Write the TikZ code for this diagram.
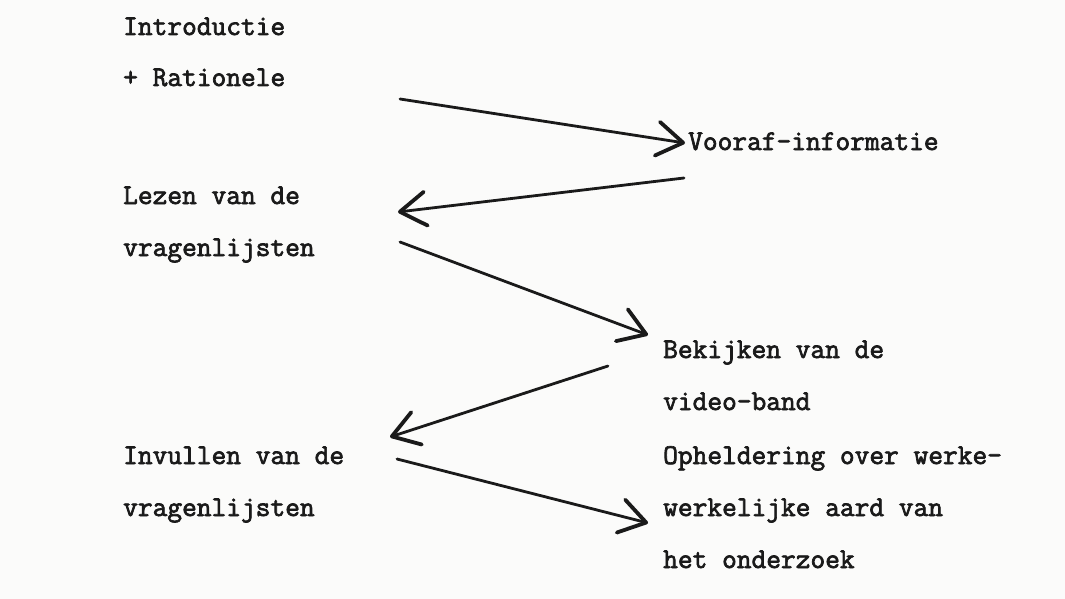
\documentclass[tikz,border=0pt]{standalone}
\usepackage{fontspec}
\newfontfamily\typew{Latin Modern Mono}[FakeBold=2.4]
\usetikzlibrary{arrows.meta}
\definecolor{ink}{HTML}{1A1A1A}
\definecolor{paper}{HTML}{FBFBFA}
\begin{document}
\begin{tikzpicture}[x=1pt,y=-1pt,
  lbl/.style={anchor=base west, inner sep=0pt, text=ink,
    font=\typew\fontsize{28.6}{28.6}\selectfont},
  flow/.style={draw=ink, line width=2.8pt, line cap=round,
    -{Straight Barb[length=26pt,width=34pt,line width=3.8pt,round]}}]
\path[fill=paper] (0,0) rectangle (1065,599);
\useasboundingbox (0,0) rectangle (1065,599);

% left column
\node[lbl] (intro1) at (123,35)  {Introductie};
\node[lbl] (intro2) at (123,86)  {+ Rationele};
\node[lbl] (lezen1) at (123,204) {Lezen van de};
\node[lbl] (lezen2) at (123,256) {vragenlijsten};
\node[lbl] (inv1)   at (123,464) {Invullen van de};
\node[lbl] (inv2)   at (123,516) {vragenlijsten};

% right column
\node[lbl] (voor)   at (688,150) {Vooraf-informatie};
\node[lbl] (bek1)   at (663,358) {Bekijken van de};
\node[lbl] (bek2)   at (663,410) {video-band};
\node[lbl] (oph1)   at (663,464) {Opheldering over werke-};
\node[lbl] (oph2)   at (663,516) {werkelijke aard van};
\node[lbl] (oph3)   at (663,568) {het onderzoek};

% arrow end points
\coordinate (a1s) at (400,99);
\coordinate (a1e) at (685,143);
\coordinate (a2s) at (684,178);
\coordinate (a2e) at (398,212);
\coordinate (a3s) at (400,242);
\coordinate (a3e) at (648,335);
\coordinate (a4s) at (608,366);
\coordinate (a4e) at (390,437);
\coordinate (a5s) at (397,459);
\coordinate (a5e) at (648,523);

\draw[flow] (a1s) -- (a1e);
\draw[flow] (a2s) -- (a2e);
\draw[flow] (a3s) -- (a3e);
\draw[flow] (a4s) -- (a4e);
\draw[flow] (a5s) -- (a5e);
\end{tikzpicture}
\end{document}
